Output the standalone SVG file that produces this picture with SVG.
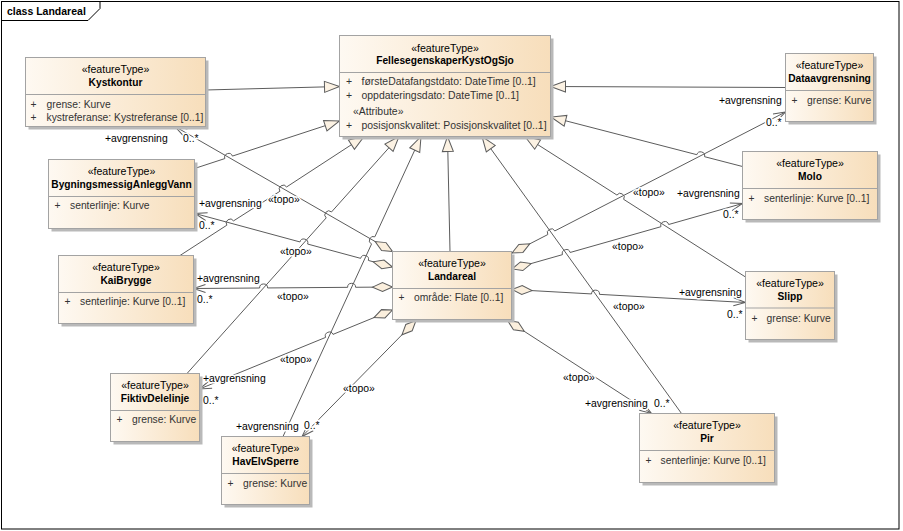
<svg xmlns="http://www.w3.org/2000/svg" width="903" height="531" viewBox="0 0 903 531">
<defs>
<linearGradient id="g" x1="0" y1="0" x2="1" y2="0">
<stop offset="0" stop-color="#FEF9F2"/>
<stop offset="1" stop-color="#F7DEBB"/>
</linearGradient>
<marker id="tri" viewBox="-16 -7 17 14" refX="0" refY="0" markerWidth="17" markerHeight="14" markerUnits="userSpaceOnUse" orient="auto">
<path d="M0,0 L-15,-5.5 L-15,5.5 Z" fill="#FCF2E3" stroke="#5c5c5c" stroke-width="1"/>
</marker>
<marker id="arr" viewBox="-13 -6 14 12" refX="0" refY="0" markerWidth="14" markerHeight="12" markerUnits="userSpaceOnUse" orient="auto">
<path d="M-12,-4 L0,0 L-12,4" fill="none" stroke="#5c5c5c" stroke-width="1"/>
</marker>
<marker id="dia" viewBox="-1 -6 22 12" refX="0" refY="0" markerWidth="22" markerHeight="12" markerUnits="userSpaceOnUse" orient="auto">
<path d="M0,0 L10,-4.5 L20,0 L10,4.5 Z" fill="#FBEFDD" stroke="#5c5c5c" stroke-width="1"/>
</marker>
</defs>
<style>
.shadow{fill:#b9b9b9}
.box{fill:url(#g);stroke:#a3a3a3;stroke-width:1}
.dv{stroke:#a3a3a3;stroke-width:1}
.st{font-family:"Liberation Sans",Arial,sans-serif;font-size:10.6px;text-anchor:middle;fill:#000}
.nm{font-family:"Liberation Sans",Arial,sans-serif;font-size:10.2px;font-weight:bold;text-anchor:middle;fill:#000}
.at{font-family:"Liberation Sans",Arial,sans-serif;font-size:10.3px;fill:#333}
#n-felles .at{font-size:10.45px}
.ln{fill:none;stroke:#5c5c5c;stroke-width:1}
.gen{marker-end:url(#tri)}
.asc{marker-start:url(#dia);marker-end:url(#arr)}
.lbl{font-family:"Liberation Sans",Arial,sans-serif;font-size:10.4px;fill:#000;stroke:#fff;stroke-width:3;stroke-linejoin:round;paint-order:stroke}
.frame{fill:#fff;stroke:#000;stroke-width:1}
.title{font-family:"Liberation Sans",Arial,sans-serif;font-size:10.5px;font-weight:bold;fill:#000}
</style>
<g id="frame">
<rect class="frame" x="1.5" y="1.5" width="897.5" height="527.5"/>
<path d="M1.5,20.5 H88 L100,8.5 V1.5" fill="none" stroke="#000" stroke-width="1"/>
<text class="title" x="7" y="14.5">class Landareal</text>
</g>
<g id="connectors">
<path class="ln gen" d="M205.5,90 L339.5,86.5"/>
<path class="ln gen" d="M785.5,87.5 L550.5,86.5"/>
<path class="ln gen" d="M194.5,168.5 L224.83,158.57 A4 4 0 0 1 232.43,156.08 L339.5,121"/>
<path class="ln gen" d="M180,255.5 L226.84,225.2 A4 4 0 0 1 233.56,220.86 L279.89,191.29 A4 4 0 0 1 286.61,186.95 L364,136.5"/>
<path class="ln gen" d="M187,373.5 L326.18,217.9 A4 4 0 0 1 331.52,211.94 L399,136.5"/>
<path class="ln gen" d="M283,436.5 L371.53,244.04 A4 4 0 0 1 374.87,236.78 L421,136.5"/>
<path class="ln gen" d="M450,251.5 L447.5,136.5"/>
<path class="ln gen" d="M681.5,413.5 L482,136.5"/>
<path class="ln gen" d="M745.5,277 L623.67,199.35 A4 4 0 0 0 616.93,195.05 L525,136.5"/>
<path class="ln gen" d="M742.5,166.5 L704.57,156.7 A4 4 0 0 0 696.83,154.7 L551,117"/>
<path class="ln asc" d="M392.5,251.5 L175,126.5"/>
<path class="ln asc" d="M392.5,267 L368.36,260.45 A4 4 0 0 0 360.64,258.35 L307.66,244.05 A4 4 0 0 0 299.94,241.95 L195,213.5"/>
<path class="ln asc" d="M392.5,287 L355.6,287.28 A4 4 0 0 0 347.6,287.34 L267.6,287.94 A4 4 0 0 0 259.6,288 L193.5,288.5"/>
<path class="ln asc" d="M392.5,310 L333,334.39 A4 4 0 0 0 325.6,337.42 L199.5,389"/>
<path class="ln asc" d="M416,320.5 L302,436.5"/>
<path class="ln asc" d="M507.5,320.5 L651.5,413.5"/>
<path class="ln asc" d="M512,289.5 L591.5,293.93 A4 4 0 0 1 599.5,294.37 L745.5,302.5"/>
<path class="ln asc" d="M512,269 L562.45,254.65 A4 4 0 0 1 570.15,252.47 L660.95,226.69 A4 4 0 0 1 668.65,224.51 L742.5,203.5"/>
<path class="ln asc" d="M512,253 L547.75,234.57 A4 4 0 0 1 554.86,230.91 L785.5,112"/>
<text class="lbl" x="105" y="142">+avgrensning</text>
<text class="lbl" x="183" y="142">0..*</text>
<text class="lbl" x="268" y="203">«topo»</text>
<text class="lbl" x="199" y="207">+avgrensning</text>
<text class="lbl" x="199" y="229">0..*</text>
<text class="lbl" x="280" y="255">«topo»</text>
<text class="lbl" x="197" y="282">+avgrensning</text>
<text class="lbl" x="197" y="303">0..*</text>
<text class="lbl" x="277" y="300">«topo»</text>
<text class="lbl" x="203" y="382">+avgrensning</text>
<text class="lbl" x="203" y="404">0..*</text>
<text class="lbl" x="280" y="363">«topo»</text>
<text class="lbl" x="236" y="430">+avgrensning</text>
<text class="lbl" x="304" y="429">0..*</text>
<text class="lbl" x="343" y="392">«topo»</text>
<text class="lbl" x="585" y="407">+avgrensning</text>
<text class="lbl" x="654" y="407">0..*</text>
<text class="lbl" x="563" y="381">«topo»</text>
<text class="lbl" x="679" y="296">+avgrensning</text>
<text class="lbl" x="727" y="318">0..*</text>
<text class="lbl" x="613" y="310">«topo»</text>
<text class="lbl" x="677" y="197">+avgrensning</text>
<text class="lbl" x="723" y="218">0..*</text>
<text class="lbl" x="612" y="250">«topo»</text>
<text class="lbl" x="719" y="104">+avgrensning</text>
<text class="lbl" x="766" y="126">0..*</text>
<text class="lbl" x="633" y="196">«topo»</text>
</g>
<g id="n-felles">
<rect class="shadow" x="342.5" y="38.5" width="211" height="101"/>
<rect class="box" x="339.5" y="35.5" width="211" height="101"/>
<line class="dv" x1="339.5" y1="72.5" x2="550.5" y2="72.5"/>
<text class="st" x="445" y="52">«featureType»</text>
<text class="nm" x="445" y="63.5">FellesegenskaperKystOgSjo</text>
<text class="at" x="346" y="85">+</text>
<text class="at" x="361.5" y="85">førsteDatafangstdato: DateTime [0..1]</text>
<text class="at" x="346" y="98.5">+</text>
<text class="at" x="361.5" y="98.5">oppdateringsdato: DateTime [0..1]</text>
<text class="at" x="353" y="114.5" fill="#000">«Attribute»</text>
<text class="at" x="346" y="128.5">+</text>
<text class="at" x="361.5" y="128.5">posisjonskvalitet: Posisjonskvalitet [0..1]</text>
</g>
<g id="n-kystkontur">
<rect class="shadow" x="28.5" y="60.5" width="180" height="69"/>
<rect class="box" x="25.5" y="57.5" width="180" height="69"/>
<line class="dv" x1="25.5" y1="94.5" x2="205.5" y2="94.5"/>
<text class="st" x="115.5" y="73">«featureType»</text>
<text class="nm" x="115.5" y="85.5">Kystkontur</text>
<text class="at" x="30.5" y="107.5">+</text>
<text class="at" x="46.5" y="107.5">grense: Kurve</text>
<text class="at" x="30.5" y="121">+</text>
<text class="at" x="46.5" y="121">kystreferanse: Kystreferanse [0..1]</text>
</g>
<g id="n-dataavgrensning">
<rect class="shadow" x="788.5" y="56.5" width="88" height="68"/>
<rect class="box" x="785.5" y="53.5" width="88" height="68"/>
<line class="dv" x1="785.5" y1="90.5" x2="873.5" y2="90.5"/>
<text class="st" x="829.5" y="68.5">«featureType»</text>
<text class="nm" x="829.5" y="81.8">Dataavgrensning</text>
<text class="at" x="791.5" y="103.5">+</text>
<text class="at" x="807" y="103.5">grense: Kurve</text>
</g>
<g id="n-bygningsmessiganleggvann">
<rect class="shadow" x="51.5" y="162.5" width="146" height="69"/>
<rect class="box" x="48.5" y="159.5" width="146" height="69"/>
<line class="dv" x1="48.5" y1="196.5" x2="194.5" y2="196.5"/>
<text class="st" x="121.5" y="175">«featureType»</text>
<text class="nm" x="121.5" y="187.5">BygningsmessigAnleggVann</text>
<text class="at" x="54.5" y="208.5">+</text>
<text class="at" x="70" y="208.5">senterlinje: Kurve</text>
</g>
<g id="n-molo">
<rect class="shadow" x="745.5" y="154.5" width="135" height="68"/>
<rect class="box" x="742.5" y="151.5" width="135" height="68"/>
<line class="dv" x1="742.5" y1="188.5" x2="877.5" y2="188.5"/>
<text class="st" x="810" y="166.7">«featureType»</text>
<text class="nm" x="810" y="179.5">Molo</text>
<text class="at" x="748.5" y="201.7">+</text>
<text class="at" x="764" y="201.7">senterlinje: Kurve [0..1]</text>
</g>
<g id="n-kaibrygge">
<rect class="shadow" x="61.5" y="258.5" width="135" height="68"/>
<rect class="box" x="58.5" y="255.5" width="135" height="68"/>
<line class="dv" x1="58.5" y1="292.5" x2="193.5" y2="292.5"/>
<text class="st" x="126" y="271">«featureType»</text>
<text class="nm" x="126" y="283.5">KaiBrygge</text>
<text class="at" x="64.5" y="305">+</text>
<text class="at" x="80" y="305">senterlinje: Kurve [0..1]</text>
</g>
<g id="n-landareal">
<rect class="shadow" x="395.5" y="254.5" width="119" height="68"/>
<rect class="box" x="392.5" y="251.5" width="119" height="68"/>
<line class="dv" x1="392.5" y1="288.5" x2="511.5" y2="288.5"/>
<text class="st" x="452" y="266.7">«featureType»</text>
<text class="nm" x="452" y="280">Landareal</text>
<text class="at" x="398.5" y="301">+</text>
<text class="at" x="414" y="301">område: Flate [0..1]</text>
</g>
<g id="n-slipp">
<rect class="shadow" x="748.5" y="274.5" width="89" height="68"/>
<rect class="box" x="745.5" y="271.5" width="89" height="68"/>
<line class="dv" x1="745.5" y1="308" x2="834.5" y2="308"/>
<text class="st" x="790" y="286.7">«featureType»</text>
<text class="nm" x="790" y="300">Slipp</text>
<text class="at" x="751.5" y="321.7">+</text>
<text class="at" x="766.5" y="321.7">grense: Kurve</text>
</g>
<g id="n-fiktivdelelinje">
<rect class="shadow" x="113.5" y="376.5" width="89" height="68"/>
<rect class="box" x="110.5" y="373.5" width="89" height="68"/>
<line class="dv" x1="110.5" y1="410.5" x2="199.5" y2="410.5"/>
<text class="st" x="155" y="388.5">«featureType»</text>
<text class="nm" x="155" y="401.8">FiktivDelelinje</text>
<text class="at" x="116.5" y="423.3">+</text>
<text class="at" x="132" y="423.3">grense: Kurve</text>
</g>
<g id="n-pir">
<rect class="shadow" x="642.5" y="416.5" width="135" height="69"/>
<rect class="box" x="639.5" y="413.5" width="135" height="69"/>
<line class="dv" x1="639.5" y1="450.5" x2="774.5" y2="450.5"/>
<text class="st" x="707" y="429">«featureType»</text>
<text class="nm" x="707" y="442.4">Pir</text>
<text class="at" x="645.5" y="463.5">+</text>
<text class="at" x="660.5" y="463.5">senterlinje: Kurve [0..1]</text>
</g>
<g id="n-havelvsperre">
<rect class="shadow" x="224.5" y="439.5" width="88" height="68"/>
<rect class="box" x="221.5" y="436.5" width="88" height="68"/>
<line class="dv" x1="221.5" y1="473.5" x2="309.5" y2="473.5"/>
<text class="st" x="265.5" y="451.8">«featureType»</text>
<text class="nm" x="265.5" y="465.2">HavElvSperre</text>
<text class="at" x="227.5" y="486.8">+</text>
<text class="at" x="243" y="486.8">grense: Kurve</text>
</g>
</svg>
